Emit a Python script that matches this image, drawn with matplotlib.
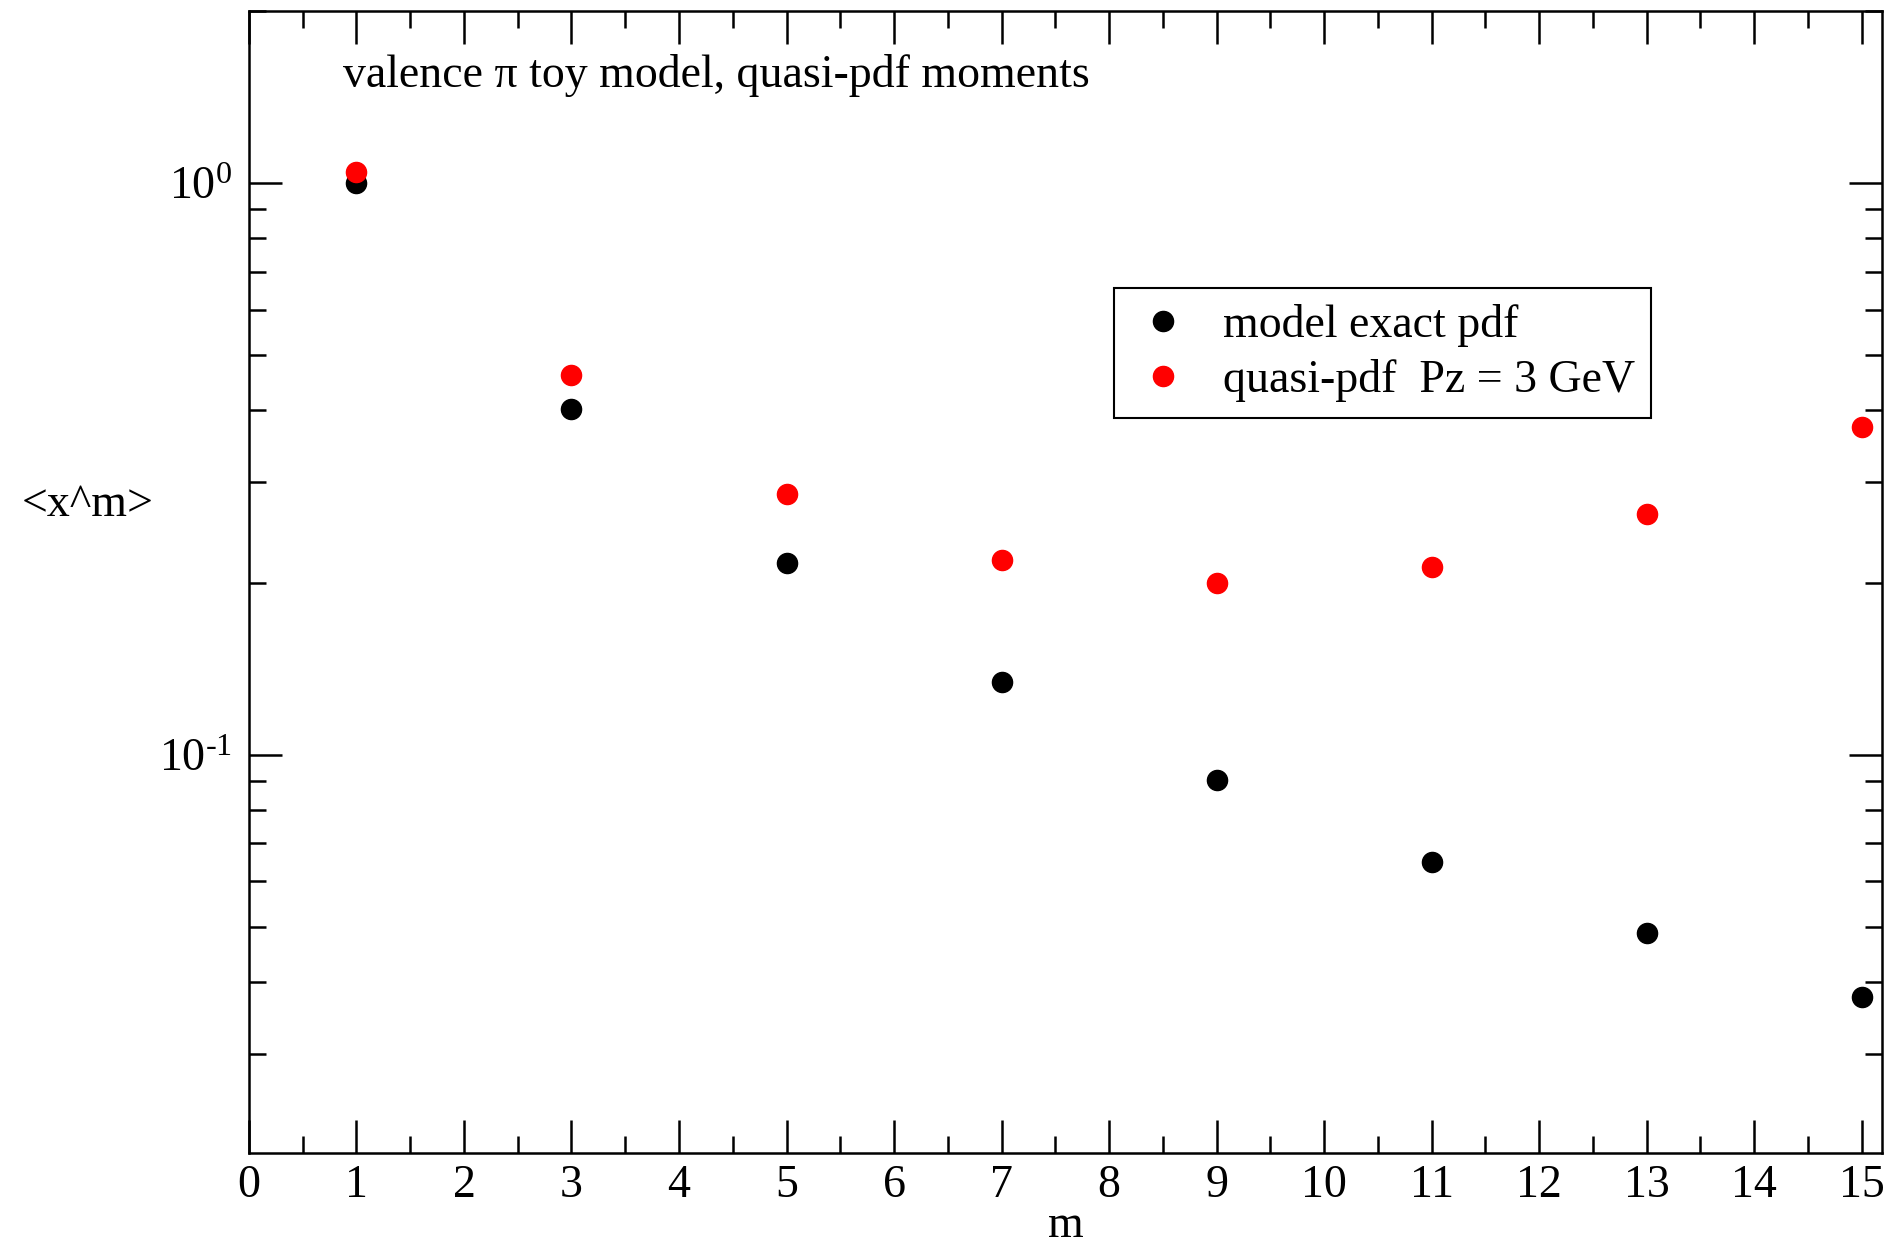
import numpy as np
import matplotlib
matplotlib.use('Agg')
import matplotlib.pyplot as plt
from matplotlib.ticker import FixedLocator, LogLocator, FuncFormatter

plt.rcParams['font.family'] = ['Liberation Serif', 'DejaVu Serif']
plt.rcParams['mathtext.fontset'] = 'custom'
plt.rcParams['mathtext.rm'] = 'Liberation Serif'
plt.rcParams['mathtext.it'] = 'Liberation Serif:italic'

# moments <x^m> for odd m
m = [1, 3, 5, 7, 9, 11, 13, 15]
exact_pdf = [1.0, 0.402, 0.216, 0.134, 0.0903, 0.065, 0.0488, 0.0377]
quasi_pdf = [1.045, 0.461, 0.286, 0.219, 0.200, 0.213, 0.264, 0.374]

fig = plt.figure(figsize=(18.89, 12.44), dpi=100)
ax = fig.add_axes([0.1318, 0.0732, 0.8645, 0.918])

ax.plot(m, exact_pdf, 'o', color='black', markersize=14.5, label='model exact pdf')
ax.plot(m, quasi_pdf, 'o', color='red', markersize=14.5, label='quasi-pdf  Pz = 3 GeV')

ax.set_yscale('log')
ax.set_xlim(0, 15.19)
ax.set_ylim(0.0201, 2.0)


def dec_fmt(v, p):
    e = int(round(np.log10(v)))
    if e < 0:
        return r'$10^{\text{-}%d}$' % (-e)
    return r'$10^{%d}$' % e


ax.xaxis.set_major_locator(FixedLocator(range(0, 16)))
ax.xaxis.set_minor_locator(FixedLocator(np.arange(0.5, 15.5, 1.0)))
ax.yaxis.set_major_locator(LogLocator(base=10, numticks=10))
ax.yaxis.set_minor_locator(LogLocator(base=10, subs=np.arange(2, 10), numticks=20))
ax.yaxis.set_major_formatter(FuncFormatter(dec_fmt))
ax.yaxis.set_minor_formatter(FuncFormatter(lambda v, p: ''))

ax.tick_params(which='both', direction='in', top=True, right=True, width=1.8, labelsize=33)
ax.tick_params(which='major', length=23.5)
ax.tick_params(which='minor', length=12)
ax.tick_params(axis='x', pad=8)
ax.tick_params(axis='y', pad=12)
for s in ax.spines.values():
    s.set_linewidth(1.8)

ax.set_xlabel('m', fontsize=33, va='baseline')
ax.xaxis.set_label_coords(0.5, -0.074)
ax.set_ylabel('<x^m>', fontsize=33, rotation=0, va='center', ha='center')
ax.yaxis.set_label_coords(-0.0985, 0.568)

ax.text(0.0575, 0.9435, 'valence π toy model, quasi-pdf moments', transform=ax.transAxes,
        fontsize=33, va='center', ha='left')

leg = ax.legend(loc='upper left', bbox_to_anchor=(0.53, 0.757), fontsize=33, fancybox=False,
                edgecolor='black', framealpha=1, handlelength=1.42, handletextpad=0.6,
                borderpad=0.35, labelspacing=0.25, borderaxespad=0)
leg.get_frame().set_linewidth(1.5)

fig.savefig('out.png', dpi=100)
